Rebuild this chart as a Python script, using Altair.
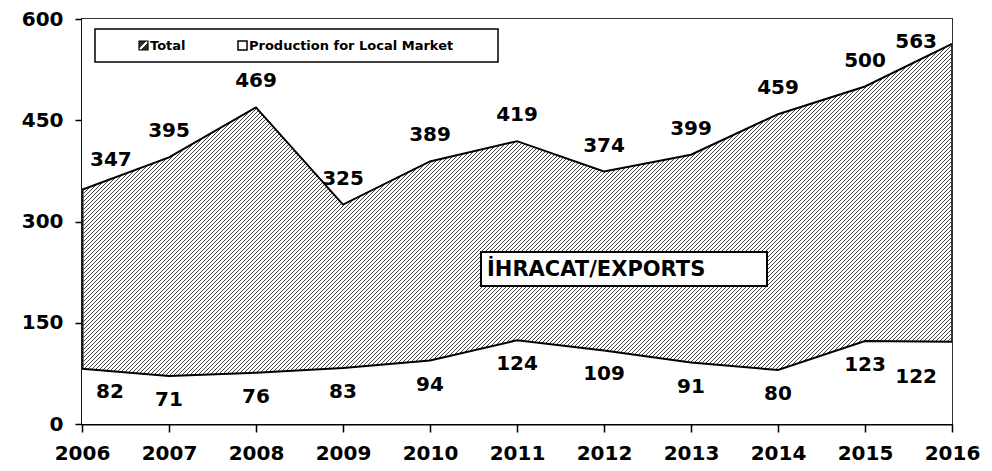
import altair as alt
import pandas as pd

# ---- data ----
years = [2006, 2007, 2008, 2009, 2010, 2011, 2012, 2013, 2014, 2015, 2016]
total = [347, 395, 469, 325, 389, 419, 374, 399, 459, 500, 563]
local = [82, 71, 76, 83, 94, 124, 109, 91, 80, 123, 122]
y_ticks = [0, 150, 300, 450, 600]
legend_labels = ["Total", "Production for Local Market"]
note_text = ["İHRACAT/EXPORTS"]

df = pd.DataFrame({"year": years, "total": total, "local": local})
one = pd.DataFrame({"k": [0]})

FONT = "DejaVu Sans"
W, H = 870, 405
Y_MAX = 600
X0, X1 = years[0], years[-1]

# ---- hatch texture: 45-degree rules spread across the plot (style only) ----
px_per_year = W / (X1 - X0)
span_years = H / px_per_year          # horizontal run of one rule over the full height
step_years = 4.0 / px_per_year        # 4 px horizontal spacing
n_lines = int((W + H) / 4.0) + 2
hatch = alt.Chart(alt.sequence(start=0, stop=n_lines, step=1, as_="i")).transform_calculate(
    hx0=f"{X0 - span_years} + datum.i * {step_years}",
    hx1=f"{X0} + datum.i * {step_years}",
    hy0="0",
    hy1=str(Y_MAX),
)

xs_scale = alt.Scale(domain=[X0, X1], nice=False, zero=False)
ys_scale = alt.Scale(domain=[0, Y_MAX], nice=False)
x_axis = alt.Axis(values=years, format="d", title=None, tickSize=8,
                  labelPadding=11, labelFontSize=20, labelFlush=False)
y_axis = alt.Axis(values=y_ticks, title=None, tickSize=7,
                  labelPadding=12, labelFontSize=20, labelFlush=False)


def xs(field):
    return alt.X(field, scale=xs_scale, axis=x_axis)


def ys(field):
    return alt.Y(field, scale=ys_scale, axis=y_axis)


hatch_rules = hatch.mark_rule(clip=True, color="#444444", strokeWidth=1.0).encode(
    x=xs("hx0:Q"), x2="hx1:Q", y=ys("hy0:Q"), y2="hy1:Q")

base = alt.Chart(df)

cover_top = base.mark_area(fill="white").encode(
    x=xs("year:Q"), y=ys("total:Q"), y2=alt.datum(Y_MAX))
area_local = base.mark_area(fill="white").encode(x=xs("year:Q"), y=ys("local:Q"))
line_total = base.mark_line(color="black", strokeWidth=2).encode(x=xs("year:Q"), y=ys("total:Q"))
line_local = base.mark_line(color="black", strokeWidth=2).encode(x=xs("year:Q"), y=ys("local:Q"))

txt = dict(font=FONT, fontSize=20, fontWeight="bold", color="black", baseline="middle")

mid = base.transform_filter(f"datum.year > {X0} && datum.year < {X1}")
first = base.transform_filter(f"datum.year == {X0}")
last = base.transform_filter(f"datum.year == {X1}")

lab_mid_t = mid.mark_text(dy=-26, **txt).encode(x=xs("year:Q"), y=ys("total:Q"), text="total:Q")
lab_mid_l = mid.mark_text(dy=24, **txt).encode(x=xs("year:Q"), y=ys("local:Q"), text="local:Q")
lab_first_t = first.mark_text(dy=-30, dx=8, align="left", **txt).encode(
    x=xs("year:Q"), y=ys("total:Q"), text="total:Q")
lab_first_l = first.mark_text(dy=23, dx=14, align="left", **txt).encode(
    x=xs("year:Q"), y=ys("local:Q"), text="local:Q")
lab_last_t = last.mark_text(dy=-2, dx=-15, align="right", **txt).encode(
    x=xs("year:Q"), y=ys("total:Q"), text="total:Q")
lab_last_l = last.mark_text(dy=35, dx=-15, align="right", **txt).encode(
    x=xs("year:Q"), y=ys("local:Q"), text="local:Q")

# ---- legend box (manual, drawn over the plot) ----
sym_grad = alt.Gradient(
    gradient="linear", x1=0, y1=0, x2=1, y2=1,
    stops=[alt.GradientStop(offset=o, color=c) for o, c in [
        (0.0, "#303030"), (0.42, "#303030"), (0.42, "#ffffff"), (0.58, "#ffffff"),
        (0.58, "#303030"), (1.0, "#303030")]])
ann = alt.Chart(one)
leg_box = ann.mark_rect(fill="white", stroke="black", strokeWidth=1.5).encode(
    x=alt.value(13), x2=alt.value(416), y=alt.value(10), y2=alt.value(43))
leg_sym1 = ann.mark_rect(fill=sym_grad, stroke="black", strokeWidth=1.2).encode(
    x=alt.value(57), x2=alt.value(66), y=alt.value(22), y2=alt.value(31))
leg_sym2 = ann.mark_rect(fill="white", stroke="black", strokeWidth=1.5).encode(
    x=alt.value(156), x2=alt.value(165), y=alt.value(22), y2=alt.value(31))
leg_txt1 = ann.mark_text(font=FONT, fontSize=13, fontWeight="bold", align="left",
                         baseline="middle", color="black").encode(
    x=alt.value(68), y=alt.value(27), text=alt.value(legend_labels[0]))
leg_txt2 = ann.mark_text(font=FONT, fontSize=13, fontWeight="bold", align="left",
                         baseline="middle", color="black").encode(
    x=alt.value(167), y=alt.value(27), text=alt.value(legend_labels[1]))

# ---- export note box ----
note_df = pd.DataFrame({"note": note_text})
note_box = alt.Chart(note_df).mark_rect(fill="white", stroke="black", strokeWidth=2).encode(
    x=alt.value(399), x2=alt.value(685), y=alt.value(233), y2=alt.value(267))
note_lab = alt.Chart(note_df).mark_text(font=FONT, fontSize=21, fontWeight="bold",
                                        align="left", baseline="middle", color="black").encode(
    x=alt.value(405), y=alt.value(251), text="note:N")

chart = alt.layer(
    hatch_rules, cover_top, area_local, line_total, line_local,
    lab_mid_t, lab_mid_l, lab_first_t, lab_first_l, lab_last_t, lab_last_l,
    leg_box, leg_sym1, leg_sym2, leg_txt1, leg_txt2,
    note_box, note_lab,
).properties(
    width=W, height=H,
    autosize=alt.AutoSizeParams(type="none"),
    padding={"left": 74, "top": 11, "right": 30, "bottom": 39},
).configure_view(
    stroke="#333333", strokeWidth=2
).configure_axis(
    domainColor="black", domainWidth=2, tickColor="black", tickWidth=1.5,
    labelFont=FONT, labelFontWeight="bold", labelColor="black", grid=False,
)

chart.save("out.html", embed_options={"renderer": "svg", "actions": False})
